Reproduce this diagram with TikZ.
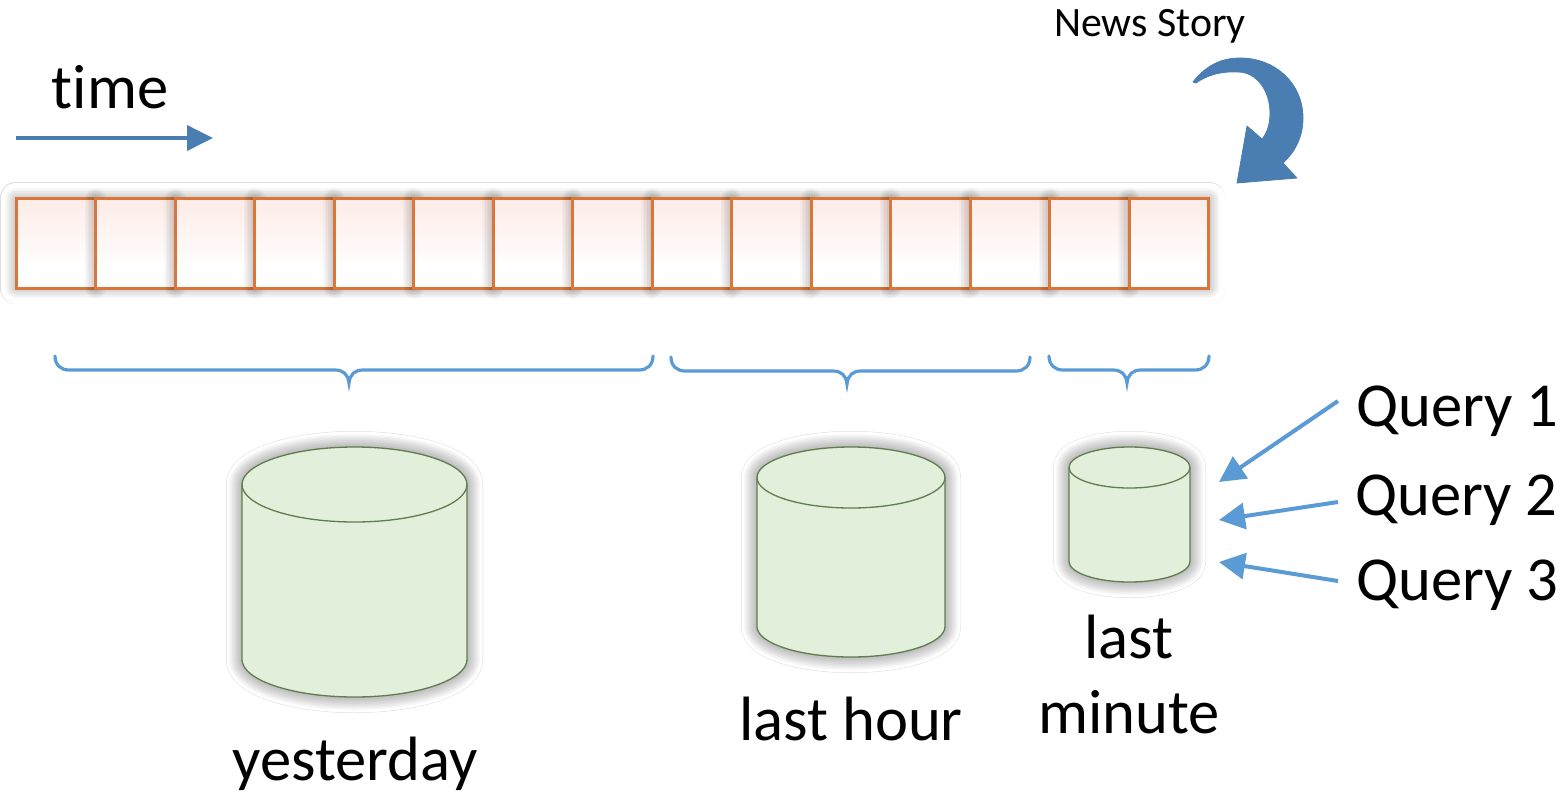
\documentclass[tikz,border=0pt]{standalone}
\usepackage{fontspec}
\setmainfont{Carlito}[Ligatures=NoCommon]
\usetikzlibrary{arrows.meta}
\definecolor{steel}{HTML}{4A7EB3}
\definecolor{sky}{HTML}{5B9BD5}
\definecolor{cellline}{HTML}{D9773A}
\definecolor{cellpink}{HTML}{FDEBE6}
\definecolor{cylfill}{HTML}{E2EFDA}
\definecolor{cylline}{HTML}{5F7D4F}
\definecolor{halo}{HTML}{DDDDDD}
\pgfdeclareverticalshading{cellshade}{100bp}{color(0bp)=(white); color(36bp)=(white); color(76bp)=(cellpink); color(100bp)=(cellpink)}
\newcommand{\bigtxt}{\fontsize{62.6}{70}\selectfont}
\newcommand{\cylbody}[5]{%
  % x0 x1 ytop ybottom ry
  (#1,#3+#5) .. controls (#1,#3+0.45*#5) and (#1+0.225*#2-0.225*#1,#3) .. ({(#1+#2)/2},#3)
  .. controls (#2-0.225*#2+0.225*#1,#3) and (#2,#3+0.45*#5) .. (#2,#3+#5)
  -- (#2,#4-#5) .. controls (#2,#4-0.45*#5) and (#2-0.225*#2+0.225*#1,#4) .. ({(#1+#2)/2},#4)
  .. controls (#1+0.225*#2-0.225*#1,#4) and (#1,#4-0.45*#5) .. (#1,#4-#5) -- cycle}
\newcommand{\cylinderfig}[5]{%
  \draw[halo, line width=32pt, line join=round] \cylbody{#1}{#2}{#3}{#4}{#5};
  \draw[white, line width=31pt, line join=round] \cylbody{#1}{#2}{#3}{#4}{#5};
  \foreach \w in {26,23,...,2}
    \draw[black, opacity=.03, line width=\w pt, line join=round] \cylbody{#1}{#2}{#3}{#4}{#5};
  \draw[cylline, fill=cylfill, line width=1.3pt] \cylbody{#1}{#2}{#3}{#4}{#5};
  \draw[cylline, line width=1.3pt] (#1,#3+#5)
    .. controls (#1,#3+1.55*#5) and (#1+0.225*#2-0.225*#1,#3+2*#5) .. ({(#1+#2)/2},#3+2*#5)
    .. controls (#2-0.225*#2+0.225*#1,#3+2*#5) and (#2,#3+1.55*#5) .. (#2,#3+#5);
}
\newcommand{\bracefig}[4]{%
  % x0 x1 tip-x ytop (line at +14, tip at +27)
  \draw[bracestyle] (#1,#4) .. controls (#1,#4+9) and (#1+6,#4+14) .. (#1+14,#4+14)
    -- (#3-14,#4+14) .. controls (#3-6,#4+14) and (#3-1,#4+18) .. (#3,#4+27)
    .. controls (#3+1,#4+18) and (#3+6,#4+14) .. (#3+14,#4+14)
    -- (#2-14,#4+14) .. controls (#2-6,#4+14) and (#2,#4+9) .. (#2,#4);
}
\tikzset{
  x=1pt, y=-1pt,
  cell/.style={draw=cellline, line width=3pt, minimum width=79.55pt, minimum height=90pt,
    inner sep=0pt, outer sep=0pt, anchor=north west, shading=cellshade},
  bracestyle/.style={draw=sky, line width=3.2pt, line cap=round},
  qarrow/.style={draw=sky, line width=4pt, -{Triangle[length=26pt,width=26pt]}},
  big/.style={font=\bigtxt, text=black, inner sep=0pt, anchor=base},
}
\begin{document}
\begin{tikzpicture}
\useasboundingbox (0,0) rectangle (1567,793);
\node[font=\fontsize{41.8}{48}\selectfont, inner sep=0pt, anchor=base] (news) at (1150,36) {News Story};
\node[big] (timelabel) at (110,108) {time};
\coordinate (ts) at (16,138);
\coordinate (te) at (213,138);
\draw[steel, line width=3.8pt, -{Triangle[length=26pt,width=25pt]}] (ts) -- (te);
\fill[steel, line join=round, draw=steel, line width=.8pt] (1193,82)
  .. controls (1207,64) and (1223,58) .. (1240,58)
  .. controls (1276,58) and (1303,84) .. (1303,118)
  .. controls (1303,137) and (1295,152) .. (1283,163)
  -- (1297,178) -- (1237,183) -- (1247,126) -- (1262,139)
  .. controls (1268,132) and (1270,122) .. (1270,113)
  .. controls (1270,90) and (1256,72) .. (1238,72)
  .. controls (1222,71) and (1207,75) .. (1196,83) -- cycle;
% bar of cells
\draw[halo, line width=32pt, line join=round] (16,198) rectangle (1209,288);
\draw[white, line width=31pt, line join=round] (16,198) rectangle (1209,288);
\foreach \i in {0,...,14}{
  \foreach \w in {22,19,...,2}
    \draw[black, opacity=.028, line width=\w pt, line join=round] (16+79.53*\i,199) rectangle (16+79.53*\i+79.53,287);
  \node[cell] (c\i) at (16+79.53*\i,198) {};
}
\bracefig{55}{653}{349}{356}
\bracefig{671}{1030}{847}{357}
\bracefig{1049}{1209}{1127}{356}
\cylinderfig{242}{467}{447}{697}{37.5}
\cylinderfig{757}{945}{447}{657}{30.5}
\cylinderfig{1069}{1190}{447}{582}{20.5}
\node[big] (yesterday) at (355,780) {yesterday};
\node[big] (lasthour) at (851,740) {last hour};
\node[big] (last) at (1129,658) {last};
\node[big] (minute) at (1129,733) {minute};
\node[big, anchor=base west] (q1) at (1356,426) {Query 1};
\node[big, anchor=base west] (q2) at (1355,515) {Query 2};
\node[big, anchor=base west] (q3) at (1356,600) {Query 3};
\coordinate (q1s) at (1338,401); \coordinate (q1e) at (1219,482);
\coordinate (q2s) at (1338,502); \coordinate (q2e) at (1219,520);
\coordinate (q3s) at (1338,581); \coordinate (q3e) at (1219,562);
\draw[qarrow] (q1s) -- (q1e);
\draw[qarrow] (q2s) -- (q2e);
\draw[qarrow] (q3s) -- (q3e);
\end{tikzpicture}
\end{document}
